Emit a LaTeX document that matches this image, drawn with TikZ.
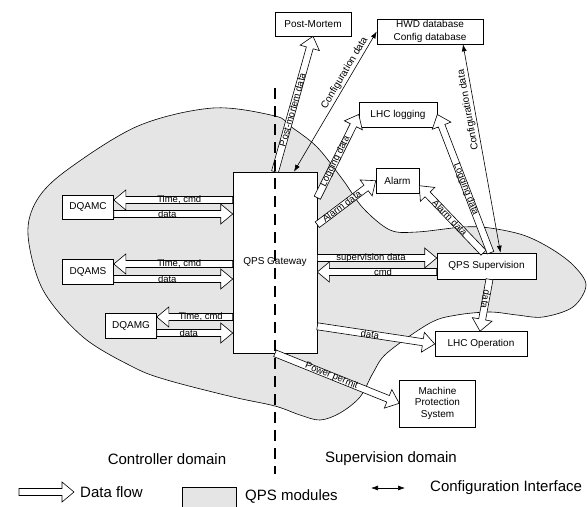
\documentclass[tikz,border=0pt]{standalone}
\usepackage{fontspec}
\setmainfont{Liberation Sans}
\usetikzlibrary{calc,arrows.meta}

\newcommand{\flowarrow}[4][]{%
  \path (#2) coordinate (fa);
  \path (#3) coordinate (fb);
  \coordinate (fh) at ($(fb)!12pt!(fa)$);
  \draw [flow] ($(fa)!3.5pt!90:(fb)$) -- ($(fh)!3.5pt!90:(fb)$) -- ($(fh)!10pt!90:(fb)$) -- (fb)
    -- ($(fh)!10pt!-90:(fb)$) -- ($(fh)!3.5pt!-90:(fb)$) -- ($(fa)!3.5pt!-90:(fb)$) -- cycle;
  \path (fa) -- (fh) node [midway,sloped,lbl,#1] {#4};
}

\begin{document}
\begin{tikzpicture}[x=1pt,y=-1pt,
  box/.style={draw,fill=white,line width=0.6pt,inner sep=0pt,align=center,font=\fontsize{10}{12}\selectfont},
  flow/.style={draw,fill=white,line width=0.6pt,line join=miter},
  lbl/.style={font=\fontsize{9.5}{10}\selectfont,inner sep=0pt},
  cfglbl/.style={font=\fontsize{10}{11}\selectfont,inner sep=1.5pt},
  cfg/.style={line width=0.6pt,{Latex[length=7pt,width=5pt]}-{Latex[length=7pt,width=5pt]}},
  qps/.style={fill=black!10,draw=black,line width=0.6pt},
  divider/.style={line width=1.6pt,dash pattern=on 11pt off 7pt},
  bigtxt/.style={font=\fontsize{15}{18}\selectfont,inner sep=0pt}]
\useasboundingbox (0,0) rectangle (588,506);

\path [qps] plot [smooth cycle,tension=0.55] coordinates {
  (28,235) (43,290) (83,337) (133,367) (167,380) (233,397) (275,406) (300,415)
  (320,420) (340,413) (360,397) (373,373) (387,353) (430,323) (457,315) (490,312)
  (517,315) (543,317) (573,307) (586,285) (573,265) (550,248) (523,235) (490,228)
  (463,227) (417,232) (390,230) (363,208) (343,180) (317,147) (290,126) (275,116)
  (213,108) (138,126) (67,170) (37,200)};

\node [box,minimum width=76pt,minimum height=24pt] (pm) at (313,24) {Post-Mortem};
\node [box,minimum width=106pt,minimum height=25pt,font=\fontsize{10}{12.3}\selectfont] (hwd) at (430,31.5) {HWD database\\Config database};
\node [box,minimum width=78pt,minimum height=25pt] (log) at (398,114.5) {LHC logging};
\node [box,minimum width=43pt,minimum height=25pt] (alarm) at (397.5,180.7) {Alarm};
\node [box,minimum width=84pt,minimum height=181pt] (gw) at (275,262.5) {QPS Gateway};
\node [box,minimum width=99pt,minimum height=26pt] (sup) at (486.5,266) {QPS Supervision};
\node [box,minimum width=92pt,minimum height=25pt] (op) at (481,344) {LHC Operation};
\node [box,minimum width=76pt,minimum height=47pt,font=\fontsize{10}{11.7}\selectfont] (mps) at (437.5,403.3) {Machine\\Protection\\System};
\node [box,minimum width=51pt,minimum height=24pt] (dqc) at (88,207) {DQAMC};
\node [box,minimum width=51pt,minimum height=25pt] (dqs) at (88,271.5) {DQAMS};
\node [box,minimum width=51pt,minimum height=25pt] (dqg) at (131,326) {DQAMG};

\flowarrow{$(gw.west|-dqc.east)+(0,-7)$}{$(dqc.east)+(0,-7)$}{Time, cmd}
\flowarrow{$(dqc.east)+(0,7)$}{$(gw.west|-dqc.east)+(0,7)$}{data}
\flowarrow{$(gw.west|-dqs.east)+(0,-7.5)$}{$(dqs.east)+(0,-7.5)$}{Time, cmd}
\flowarrow{$(dqs.east)+(0,7.5)$}{$(gw.west|-dqs.east)+(0,7.5)$}{data}
\flowarrow{$(gw.west|-dqg.east)+(0,-9)$}{$(dqg.east)+(0,-9)$}{Time, cmd}
\flowarrow{$(dqg.east)+(0,7)$}{$(gw.west|-dqg.east)+(0,7)$}{data}

\flowarrow{gw.north}{pm.south}{Post-mortem data}
\flowarrow{$(gw.north east)+(0,26)$}{log.west}{Logging data}
\flowarrow{$(gw.north east)+(0,53)$}{alarm.west}{Alarm data}
\flowarrow{$(sup.north)+(4,0)$}{log.east}{Logging data}
\flowarrow[pos=0.6]{$(sup.north)+(-3,0)$}{$(alarm.east)+(0,5)$}{Alarm data}
\flowarrow{$(gw.east|-sup.west)+(0,-8)$}{$(sup.west)+(0,-8)$}{supervision data}
\flowarrow{$(sup.west)+(0,6)$}{$(gw.east|-sup.west)+(0,6)$}{cmd}
\flowarrow[allow upside down]{$(sup.south)+(3,0)$}{$(op.north)+(-1,0)$}{data}
\flowarrow{$(gw.south east)+(0,-27)$}{op.west}{data}
\flowarrow{gw.south}{mps.west}{Power permit}

\draw [cfg] ($(gw.north)+(19,0)$) -- (hwd.west) node [pos=0.68,sloped,above,cfglbl] {Configuration data};
\draw [cfg] ($(sup.north)+(14,0)$) -- ($(hwd.south)+(33,0)$) node [pos=0.69,sloped,above,allow upside down,cfglbl] {Configuration data};

\draw [divider] (275,88) -- (275,474);

\node [bigtxt] (ctrl) at (167,459) {Controller domain};
\node [bigtxt] (supd) at (391,459) {Supervision domain};

\coordinate (dfa) at (19,492);
\coordinate (dfb) at (74,492);
\flowarrow{dfa}{dfb}{}
\node [bigtxt,anchor=west] (dftxt) at (80,492) {Data flow};
\node [qps,inner sep=0pt,minimum width=54pt,minimum height=24pt,anchor=north west] (qpsbox) at (182,487) {};
\node [bigtxt,anchor=west] (qpstxt) at (245,496) {QPS modules};
\coordinate (cia) at (371,488);
\coordinate (cib) at (405,488);
\draw [cfg] (cia) -- (cib);
\node [bigtxt,anchor=west] (citxt) at (430,488) {Configuration Interface};
\end{tikzpicture}
\end{document}
